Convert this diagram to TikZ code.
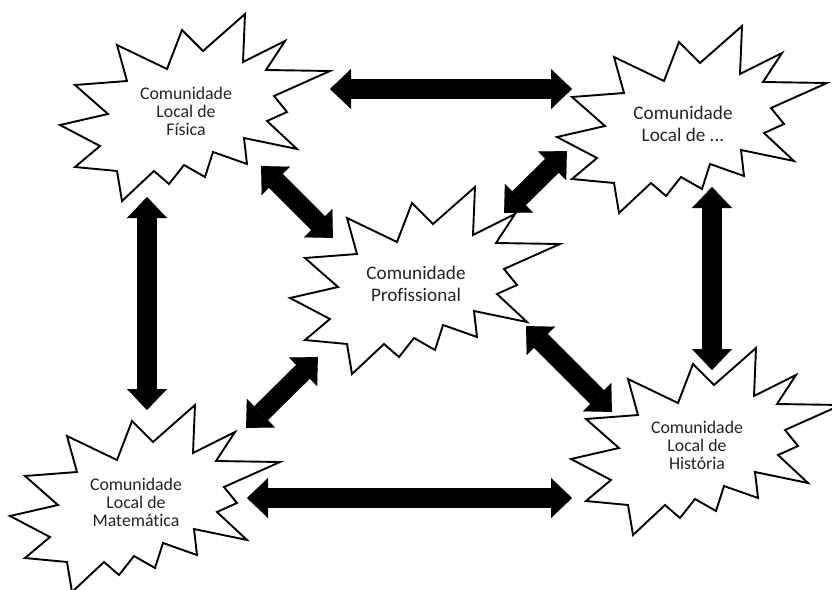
\documentclass[tikz,border=0pt]{standalone}
\usepackage{fontspec}
\setmainfont{Carlito}[Ligatures=NoCommon]
\usetikzlibrary{arrows.meta}
\definecolor{txt}{RGB}{35,35,35}
\tikzset{
  starline/.style={draw=black, line width=1.9pt, fill=white, line join=miter},
  starburst/.pic={
    \path[starline] (185,0) -- (183,48) -- (225,27) -- (206,56) -- (270,57) -- (214,82)
      -- (227,98) -- (207,107) -- (237,135) -- (184,124) -- (187,150) -- (153,138)
      -- (145,163) -- (124,151) -- (109,170) -- (94,157) -- (62,187) -- (57,157)
      -- (15,153) -- (40,132) -- (0,111) -- (48,100) -- (15,71) -- (67,67)
      -- (57,31) -- (107,55) -- (122,16) -- (143,37) -- cycle;
  },
  lbl3/.style={align=center, text=txt, inner sep=0pt, font=\fontsize{17.8}{18}\selectfont},
  lbl2/.style={align=center, text=txt, inner sep=0pt, font=\fontsize{19.2}{22}\selectfont},
  dblarrow/.style={draw=black, line width=19.5pt,
    {Triangle[length=21pt,width=40pt,line width=0.1pt]}-{Triangle[length=21pt,width=40pt,line width=0.1pt]}}
}
\begin{document}
\begin{tikzpicture}[x=1pt,y=-1pt]
\useasboundingbox (0,0) rectangle (832,589);
\fill[white] (0,0) rectangle (832,589);

% stars
\pic at (60,14) {starburst};
\pic at (557,26) {starburst};
\pic at (290,187) {starburst};
\pic at (10,405) {starburst};
\pic at (571,348) {starburst};

% labels
\node[lbl3] (fis) at (186,111) {Comunidade\\Local de\\Física};
\node[lbl2] (out) at (683,124) {Comunidade\\Local de ...};
\node[lbl2] (prof) at (416,284) {Comunidade\\Profissional};
\node[lbl3] (mat) at (136,502) {Comunidade\\Local de\\Matemática};
\node[lbl3] (his) at (697,445) {Comunidade\\Local de\\História};

% arrow ends
\coordinate (fis-r) at (330,89);   \coordinate (out-l) at (572,89);
\coordinate (fis-d) at (261,166);  \coordinate (prof-ul) at (333,238);
\coordinate (out-d) at (567,151);  \coordinate (prof-ur) at (504,213);
\coordinate (fis-b) at (147,197);  \coordinate (mat-t) at (147,410);
\coordinate (out-b) at (712,187);  \coordinate (his-t) at (712,370);
\coordinate (mat-u) at (246,428);  \coordinate (prof-dl) at (318,357);
\coordinate (his-u) at (612,412);  \coordinate (prof-dr) at (526,326);
\coordinate (mat-r) at (247,498);  \coordinate (his-l) at (572,498);

% connectors
\draw[dblarrow] (fis-r) -- (out-l);
\draw[dblarrow] (fis-d) -- (prof-ul);
\draw[dblarrow] (out-d) -- (prof-ur);
\draw[dblarrow] (fis-b) -- (mat-t);
\draw[dblarrow] (out-b) -- (his-t);
\draw[dblarrow] (mat-u) -- (prof-dl);
\draw[dblarrow] (his-u) -- (prof-dr);
\draw[dblarrow] (mat-r) -- (his-l);
\end{tikzpicture}
\end{document}
